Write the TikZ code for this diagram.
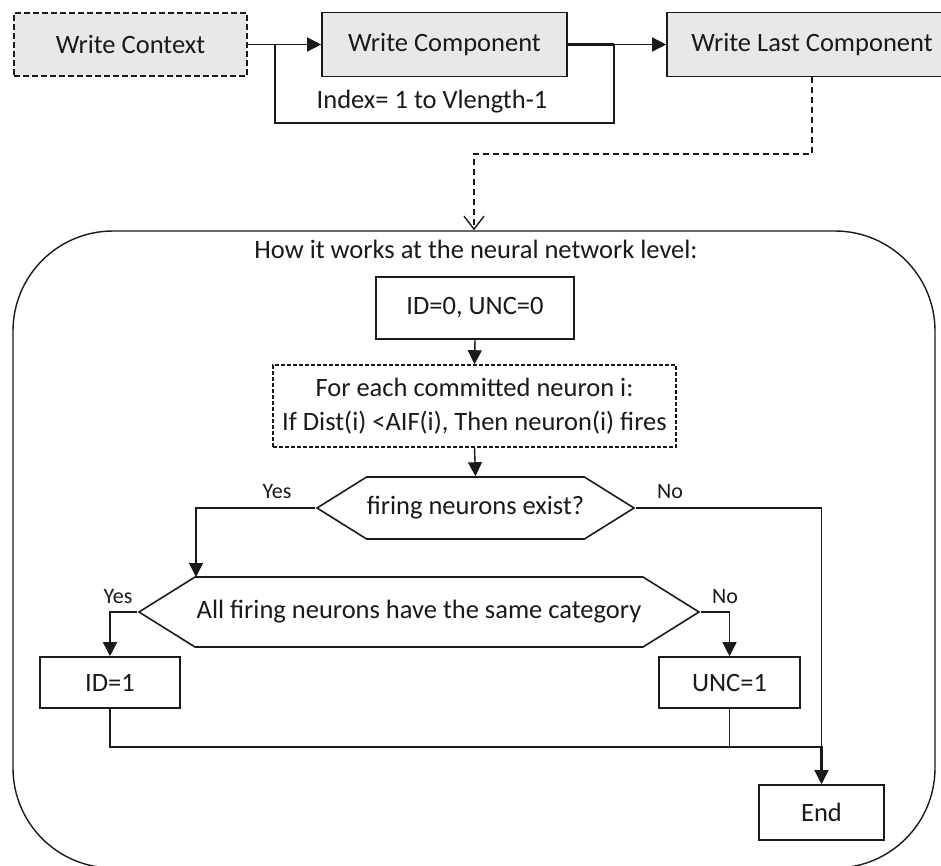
\documentclass[tikz,border=0pt]{standalone}
\usepackage{fontspec}
\setmainfont{Carlito}
\usetikzlibrary{arrows.meta,shapes.symbols}
\definecolor{boxgrey}{HTML}{E8E8E8}
\definecolor{ink}{HTML}{1A1A1A}
\begin{document}
\begin{tikzpicture}[x=1pt,y=-1pt,
  txt/.style={font=\fontsize{26.5}{34}\selectfont, text=ink, inner sep=0pt, align=center},
  box/.style={txt, draw=ink, line width=1.6pt},
  greybox/.style={box, fill=boxgrey},
  hexa/.style={box, shape=signal, signal to=west and east, signal pointer angle=64},
  lbl/.style={font=\fontsize{22}{25}\selectfont, text=ink, inner sep=0pt},
  line/.style={draw=ink, line width=1.4pt},
  flow/.style={line, -{Triangle[length=14pt,width=14pt]}},
]
% page and background
\fill[white] (0,0) rectangle (941,865);
\useasboundingbox (0,0) rectangle (941,865);

% ---- top row: write sequence ----
\node[greybox, dash pattern=on 6pt off 3pt, minimum width=233, minimum height=63] (ctx) at (130.5,44.5) {Write Context};
\node[greybox, minimum width=245, minimum height=64] (comp) at (444.5,44.5) {Write Component};
\node[greybox, minimum width=290, minimum height=64] (last) at (812,44.5) {Write Last Component};

\coordinate (jl) at (275,44.5);
\coordinate (jr) at (614,44.5);
\coordinate (loopb) at (444,123);
\draw[flow] (ctx.east) -- (comp.west);
\draw[line] (jl) |- (loopb) -| (jr);
\draw[line, line width=3pt] (comp.east) -- (jr);
\draw[flow] (jr) -- (last.west);
\node[txt] (idx) at (432,102) {Index= 1 to Vlength-1};

% ---- neural network level ----
\node[draw=ink, line width=1.4pt, rounded corners=100pt, minimum width=922, minimum height=637, inner sep=0pt] (frame) at (474,549.5) {};
\node[txt] (title) at (476,249) {How it works at the neural network level:};

\coordinate (dbend) at (812,154);
\draw[line, dash pattern=on 6pt off 4pt, -{Straight Barb[length=13pt,width=20pt,line width=1.4pt]}] (last.south) -- (dbend) -| (frame.north);

\node[box, minimum width=198, minimum height=62] (init) at (475,308) {ID=0, UNC=0};
\node[box, dash pattern=on 4pt off 2pt, minimum width=403, minimum height=82] (scan) at (474.5,406)
  {For each committed neuron i:\\If Dist(i) <AIF(i), Then neuron(i) fires};
\node[hexa, minimum width=317, minimum height=62] (q1) at (475.5,508) {firing neurons exist?};
\node[hexa, minimum width=560, minimum height=70] (q2) at (419,612) {All firing neurons have the same category};
\node[box, minimum width=140, minimum height=51] (id) at (110,682.5) {ID=1};
\node[box, minimum width=141, minimum height=51] (unc) at (729.5,682.5) {UNC=1};
\node[box, minimum width=125, minimum height=55] (stopbox) at (821.5,812.5) {End};

\node[lbl] (yes1) at (277,492) {Yes};
\node[lbl] (no1) at (670,492) {No};
\node[lbl] (yes2) at (118,597) {Yes};
\node[lbl] (no2) at (725,597) {No};

\coordinate (q2tl) at (196,577);
\coordinate (merge) at (821.5,747);
\coordinate (tipbase) at (821.5,770);
\draw[flow] (init.south) -- (scan.north);
\draw[flow] (scan.south) -- (q1.north);
\draw[flow] (q1.west) -| (q2tl);
\draw[flow] (q2.west) -| (id.north);
\draw[flow] (q2.east) -| (unc.north);
% all outcomes join and run into the end box
\draw[line] (q1.east) -| (merge);
\draw[line] (id.south) |- (merge);
\draw[line] (unc.south) |- (merge);
\draw[line, line width=2.6pt] (unc.south |- merge) -- (merge) -- (tipbase);
\draw[flow] (tipbase) -- (stopbox.north);
\end{tikzpicture}
\end{document}
